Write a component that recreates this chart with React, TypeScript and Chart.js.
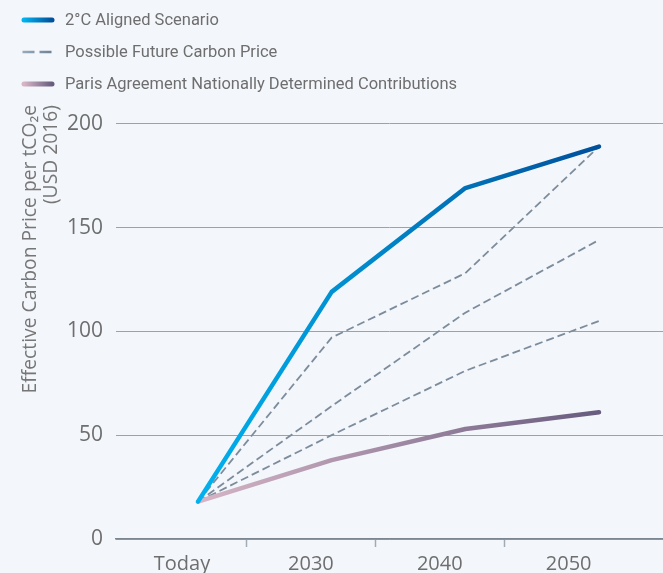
import React, { useEffect, useRef } from 'react';
import { Chart, registerables } from 'chart.js';

Chart.register(...registerables);

// ---- data ----
const categories = ['Today', '2030', '2040', '2050'];
const alignedScenario = [18, 119, 169, 189];
const parisNdc = [18, 38, 53, 61];
const futureHigh = [18, 97, 128, 189];
const futureMid = [18, 64, 109, 144];
const futureLow = [18, 50, 81, 105];
const yTicks = [0, 50, 100, 150, 200];
const legendLabels = [
  '2°C Aligned Scenario',
  'Possible Future Carbon Price',
  'Paris Agreement Nationally Determined Contributions',
];
const yTitle = ['Effective Carbon Price per tCO₂e', '(USD 2016)'];

// ---- styles ----
const BG = '#f3f6fb';
const TEXT = '#6e6e6e';
const FONT = "'Open Sans', 'Noto Sans', sans-serif";
const LEGEND_FONT = "Roboto, 'Noto Sans', sans-serif";
const BLUE0 = '#00b2ee';
const BLUE1 = '#00509b';
const PINK0 = '#d6b5c6';
const PINK1 = '#685c7f';
const DASH = '#7d8c9b';

const toPoints = (arr: number[]) => arr.map((v, i) => ({ x: i, y: v }));

const gradient = (c0: string, c1: string) => (ctx: any) => {
  const chart = ctx.chart;
  const xs = chart.scales && chart.scales.xd;
  if (!xs || !chart.chartArea) return c1;
  const g = chart.ctx.createLinearGradient(
    xs.getPixelForValue(0), 0, xs.getPixelForValue(categories.length - 1), 0
  );
  g.addColorStop(0, c0);
  g.addColorStop(1, c1);
  return g;
};

const bgPlugin = {
  id: 'bgFill',
  beforeDraw(chart: any) {
    const { ctx, width, height } = chart;
    ctx.save();
    ctx.fillStyle = BG;
    ctx.fillRect(0, 0, width, height);
    ctx.restore();
  },
};

const legendPlugin = {
  id: 'stackedLegend',
  afterDraw(chart: any) {
    const ctx = chart.ctx;
    const x0 = 24;
    const x1 = 52;
    const rows = [20, 52, 84];
    ctx.save();
    // line 1
    let g = ctx.createLinearGradient(x0, 0, x1, 0);
    g.addColorStop(0, BLUE0);
    g.addColorStop(1, BLUE1);
    ctx.strokeStyle = g;
    ctx.lineWidth = 5;
    ctx.lineCap = 'round';
    ctx.beginPath();
    ctx.moveTo(x0, rows[0]);
    ctx.lineTo(x1, rows[0]);
    ctx.stroke();
    // line 2 dashed
    g = ctx.createLinearGradient(x0 - 2, 0, x1 + 2, 0);
    g.addColorStop(0, '#98abbd');
    g.addColorStop(1, '#6c7f90');
    ctx.strokeStyle = g;
    ctx.lineWidth = 2.5;
    ctx.lineCap = 'butt';
    ctx.setLineDash([12, 5]);
    ctx.beginPath();
    ctx.moveTo(x0 - 1.5, rows[1]);
    ctx.lineTo(x1 + 1.5, rows[1]);
    ctx.stroke();
    ctx.setLineDash([]);
    // line 3
    g = ctx.createLinearGradient(x0, 0, x1, 0);
    g.addColorStop(0, PINK0);
    g.addColorStop(1, PINK1);
    ctx.strokeStyle = g;
    ctx.lineWidth = 5;
    ctx.lineCap = 'round';
    ctx.beginPath();
    ctx.moveTo(x0, rows[2]);
    ctx.lineTo(x1, rows[2]);
    ctx.stroke();
    // texts
    ctx.fillStyle = TEXT;
    ctx.font = `16.5px ${LEGEND_FONT}`;
    ctx.textAlign = 'left';
    ctx.textBaseline = 'middle';
    legendLabels.forEach((t, i) => ctx.fillText(t, 65, rows[i] + 1));
    ctx.restore();
  },
};

export default function App() {
  const ref = useRef<HTMLCanvasElement | null>(null);

  useEffect(() => {
    document.body.style.margin = '0';
    document.body.style.background = BG;
    const canvas = ref.current;
    if (!canvas) return;

    const dashedCommon = {
      borderColor: DASH,
      borderWidth: 1.8,
      borderDash: [8, 4],
      pointRadius: 0,
      tension: 0,
      xAxisID: 'xd',
      yAxisID: 'y',
      order: 3,
    };

    const chart = new Chart(canvas, {
      type: 'line',
      data: {
        datasets: [
          {
            label: legendLabels[0],
            data: toPoints(alignedScenario),
            borderColor: gradient(BLUE0, BLUE1),
            borderWidth: 4.5,
            borderCapStyle: 'round',
            borderJoinStyle: 'round',
            pointRadius: 0,
            tension: 0,
            xAxisID: 'xd',
            yAxisID: 'y',
            order: 1,
          },
          {
            label: legendLabels[2],
            data: toPoints(parisNdc),
            borderColor: gradient(PINK0, PINK1),
            borderWidth: 4.5,
            borderCapStyle: 'round',
            borderJoinStyle: 'round',
            pointRadius: 0,
            tension: 0,
            xAxisID: 'xd',
            yAxisID: 'y',
            order: 2,
          },
          { label: legendLabels[1], data: toPoints(futureHigh), ...dashedCommon },
          { label: legendLabels[1], data: toPoints(futureMid), ...dashedCommon },
          { label: legendLabels[1], data: toPoints(futureLow), ...dashedCommon },
        ] as any,
      },
      options: {
        animation: false,
        responsive: false,
        devicePixelRatio: 1,
        layout: { padding: { top: 105, left: 0, right: 0, bottom: 0 } },
        plugins: {
          legend: { display: false },
          tooltip: { enabled: false },
        },
        scales: {
          x: {
            type: 'linear',
            position: 'bottom',
            min: -0.512,
            max: 3.732,
            afterBuildTicks: (s: any) => {
              s.ticks = categories.map((_, i) => ({ value: i }));
            },
            afterFit: (s: any) => {
              s.height = 34;
            },
            ticks: {
              autoSkip: false,
              maxRotation: 0,
              padding: 5,
              color: TEXT,
              font: { family: FONT, size: 20 },
              callback: (_v: any, i: number) => categories[i] ?? '',
            },
            grid: {
              offset: true,
              drawOnChartArea: false,
              drawTicks: true,
              tickLength: 8,
              tickWidth: 1.5,
              tickColor: (c: any) =>
                c.index >= 1 && c.index <= categories.length - 1 ? '#a2abb5' : 'rgba(0,0,0,0)',
            },
            border: { display: true, color: '#7b8691', width: 1.5 },
          },
          xd: {
            type: 'linear',
            display: false,
            min: -0.6135,
            max: 3.4788,
          },
          y: {
            type: 'linear',
            min: 0,
            max: 209,
            afterBuildTicks: (s: any) => {
              s.ticks = yTicks.map((v) => ({ value: v }));
            },
            afterFit: (s: any) => {
              s.width = 116;
            },
            ticks: {
              padding: 13,
              color: TEXT,
              font: { family: FONT, size: 21 },
            },
            grid: {
              color: '#9aa3ad',
              lineWidth: 1,
              drawTicks: false,
            },
            border: { display: false },
            title: {
              display: true,
              text: yTitle,
              align: 'end',
              color: '#767676',
              font: { family: FONT, size: 19.3, lineHeight: 1.1 },
              padding: { top: 19.5, bottom: 0 },
            },
          },
        },
      } as any,
      plugins: [bgPlugin, legendPlugin],
    });

    return () => chart.destroy();
  }, []);

  return (
    <div style={{ position: 'fixed', left: 0, top: 0, width: 663, height: 573, background: BG }}>
      <canvas ref={ref} width={663} height={573} style={{ display: 'block' }} />
    </div>
  );
}
